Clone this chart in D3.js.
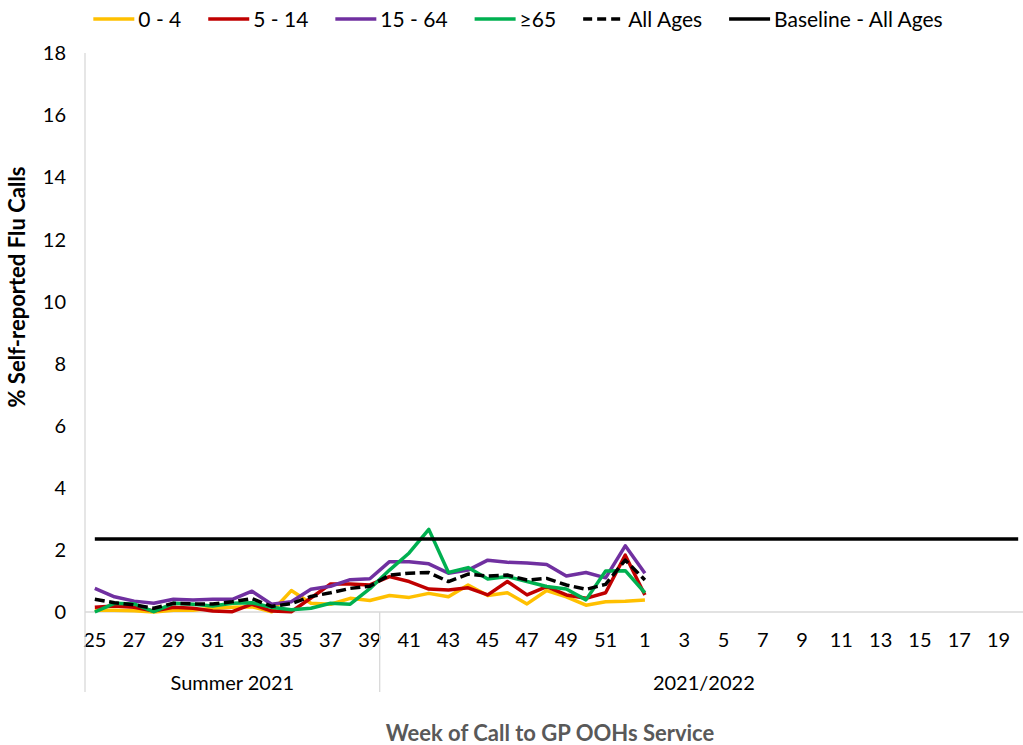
<!DOCTYPE html>
<html lang="en">
<head>
    <meta charset="UTF-8">
    <title>Self-reported Flu Calls</title>
    <script src="https://d3js.org/d3.v7.min.js"></script>
    <style>
        body {
            margin: 0;
            background: #fff;
        }
        svg text {
            font-family: Lato, "Open Sans", sans-serif;
            fill: #000;
        }
    </style>
</head>
<body>
    <svg id="chart"></svg>

    <script>
        // weeks shown on the axis (week 25 of 2021 to week 20 of 2022)
        const weeks = [25, 26, 27, 28, 29, 30, 31, 32, 33, 34, 35, 36, 37, 38, 39,
                       40, 41, 42, 43, 44, 45, 46, 47, 48, 49, 50, 51, 52,
                       1, 2, 3, 4, 5, 6, 7, 8, 9, 10, 11, 12, 13, 14, 15, 16, 17, 18, 19, 20];
        const seasons = [
            { name: "Summer 2021", first: 0, last: 14 },
            { name: "2021/2022", first: 15, last: 47 }
        ];
        const yTicks = [0, 2, 4, 6, 8, 10, 12, 14, 16, 18];

        // % self-reported flu calls, weeks 25..52 and week 1
        const age0to4   = [0.06, 0.06, 0.04, 0.00, 0.06, 0.06, 0.12, 0.15, 0.17, 0.01, 0.69, 0.28, 0.25, 0.44, 0.37,
                           0.53, 0.47, 0.60, 0.49, 0.87, 0.53, 0.62, 0.26, 0.69, 0.49, 0.22, 0.33, 0.35, 0.39];
        const age5to14  = [0.15, 0.19, 0.15, 0.03, 0.15, 0.12, 0.03, 0.01, 0.25, 0.03, 0.01, 0.45, 0.90, 0.90, 0.87,
                           1.14, 0.98, 0.74, 0.71, 0.78, 0.55, 0.98, 0.55, 0.82, 0.55, 0.44, 0.62, 1.83, 0.55];
        const age15to64 = [0.76, 0.49, 0.35, 0.28, 0.41, 0.39, 0.41, 0.41, 0.67, 0.25, 0.33, 0.73, 0.83, 1.04, 1.07,
                           1.62, 1.62, 1.55, 1.25, 1.35, 1.67, 1.60, 1.58, 1.53, 1.16, 1.27, 1.10, 2.13, 1.25];
        const age65plus = [0.00, 0.28, 0.26, 0.01, 0.28, 0.25, 0.19, 0.28, 0.30, 0.15, 0.07, 0.12, 0.28, 0.25, 0.75,
                           1.35, 1.90, 2.66, 1.27, 1.43, 1.06, 1.14, 0.98, 0.82, 0.74, 0.39, 1.32, 1.33, 0.62];
        const allAges   = [0.41, 0.30, 0.23, 0.12, 0.28, 0.26, 0.26, 0.33, 0.43, 0.18, 0.27, 0.50, 0.62, 0.76, 0.83,
                           1.19, 1.25, 1.27, 0.98, 1.22, 1.16, 1.19, 1.03, 1.08, 0.87, 0.73, 0.89, 1.67, 1.03];
        const baselineValue = 2.35;

        const series = [
            { name: "0 - 4", values: age0to4, color: "#FFC000" },
            { name: "5 - 14", values: age5to14, color: "#C00000" },
            { name: "15 - 64", values: age15to64, color: "#7030A0" },
            { name: "\u226565", values: age65plus, color: "#00B050" },
            { name: "All Ages", values: allAges, color: "#000", dash: "10,4.5" },
            { name: "Baseline - All Ages", values: weeks.map(() => baselineValue), color: "#000" }
        ];

        const width = 1023, height = 745;
        const margin = { top: 53, left: 85, bottom: 612 };
        const plotRight = 1028;

        const svg = d3.select("#chart")
            .attr("width", width)
            .attr("height", height);

        const x = d3.scaleBand()
            .domain(d3.range(weeks.length))
            .range([margin.left, plotRight]);

        const y = d3.scaleLinear()
            .domain([0, 18])
            .range([margin.bottom, margin.top]);

        const axisColor = "#d9d9d9";

        // axis lines
        svg.append("line")
            .attr("x1", margin.left).attr("x2", margin.left)
            .attr("y1", y(18)).attr("y2", y(0))
            .attr("stroke", axisColor).attr("stroke-width", 1.3);
        svg.append("line")
            .attr("x1", margin.left).attr("x2", plotRight)
            .attr("y1", y(0)).attr("y2", y(0))
            .attr("stroke", axisColor).attr("stroke-width", 1.3);

        // y tick labels
        svg.append("g")
            .selectAll("text")
            .data(yTicks)
            .join("text")
                .attr("x", 66)
                .attr("y", d => y(d))
                .attr("dy", "0.36em")
                .attr("text-anchor", "end")
                .style("font-size", "20px")
                .text(d => d);

        // week labels (every other week)
        svg.append("g")
            .selectAll("text")
            .data(weeks.map((w, i) => ({ w, i })).filter(d => d.i % 2 === 0))
            .join("text")
                .attr("x", d => x(d.i) + x.bandwidth() / 2)
                .attr("y", 647)
                .attr("text-anchor", "middle")
                .style("font-size", "20px")
                .text(d => d.w);

        // season dividers and labels
        const dividers = [0, ...seasons.map(s => s.last + 1)];
        svg.append("g")
            .selectAll("line")
            .data(dividers)
            .join("line")
                .attr("x1", d => d < weeks.length ? x(d) : plotRight)
                .attr("x2", d => d < weeks.length ? x(d) : plotRight)
                .attr("y1", y(0))
                .attr("y2", 692)
                .attr("stroke", axisColor)
                .attr("stroke-width", 1.3);

        svg.append("g")
            .selectAll("text")
            .data(seasons)
            .join("text")
                .attr("x", d => (x(d.first) + x(d.last) + x.bandwidth()) / 2)
                .attr("y", 690)
                .attr("text-anchor", "middle")
                .style("font-size", "20px")
                .text(d => d.name);

        // axis titles
        svg.append("text")
            .attr("x", 550)
            .attr("y", 741)
            .attr("text-anchor", "middle")
            .style("font-size", "22px")
            .style("font-weight", "bold")
            .style("fill", "#595959")
            .text("Week of Call to GP OOHs Service");

        svg.append("text")
            .attr("transform", "translate(25,287) rotate(-90)")
            .attr("text-anchor", "middle")
            .style("font-size", "22px")
            .style("font-weight", "bold")
            .text("% Self-reported Flu Calls");

        // series lines
        const line = d3.line()
            .x((d, i) => x(i) + x.bandwidth() / 2)
            .y(d => y(d));

        svg.append("g")
            .selectAll("path")
            .data(series)
            .join("path")
                .attr("fill", "none")
                .attr("stroke", d => d.color)
                .attr("stroke-width", 3.5)
                .attr("stroke-linejoin", "round")
                .attr("stroke-dasharray", d => d.dash || null)
                .attr("d", d => line(d.values));

        // legend, laid out left to right then centred
        const legend = svg.append("g");
        let cursor = 0;
        series.forEach(s => {
            const item = legend.append("g").attr("transform", `translate(${cursor},0)`);
            item.append("line")
                .attr("x1", 0).attr("x2", 41)
                .attr("y1", 0).attr("y2", 0)
                .attr("stroke", s.color)
                .attr("stroke-width", 3.5)
                .attr("stroke-dasharray", s.dash ? "9,5" : null);
            const label = item.append("text")
                .attr("x", 45)
                .attr("dy", "0.36em")
                .style("font-size", "21px")
                .text(s.name);
            cursor += 45 + label.node().getComputedTextLength() + 27;
        });
        cursor -= 27;
        legend.attr("transform", `translate(${518 - cursor / 2},19)`);
    </script>
</body>
</html>
